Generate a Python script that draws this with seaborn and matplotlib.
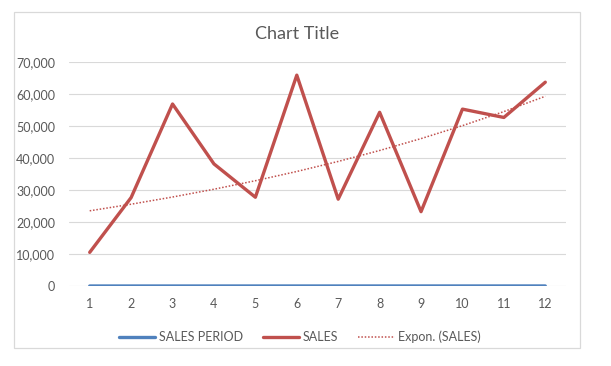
import numpy as np
import pandas as pd
import matplotlib
matplotlib.use("Agg")
import matplotlib.pyplot as plt
import matplotlib.ticker as mticker
from matplotlib.patches import Rectangle
import seaborn as sns

# ---- data ----
periods = [1, 2, 3, 4, 5, 6, 7, 8, 9, 10, 11, 12]
sales_period = [1, 2, 3, 4, 5, 6, 7, 8, 9, 10, 11, 12]
sales = [10500, 27600, 56800, 38100, 27700, 65800, 27100, 54200, 23200, 55200, 52600, 63600]
y_ticks = [0, 10000, 20000, 30000, 40000, 50000, 60000, 70000]
title = "Chart Title"

# exponential trendline fitted on SALES (as Excel's Expon. trendline)
b, a = np.polyfit(periods, np.log(sales), 1)
trend = list(np.exp(a) * np.exp(b * np.array(periods)))

df = pd.DataFrame({"period": periods, "SALES PERIOD": sales_period,
                   "SALES": sales, "Expon. (SALES)": trend})

sns.set_style("white")
plt.rcParams["font.family"] = ["Lato", "DejaVu Sans"]

W, H = 611, 366
fig = plt.figure(figsize=(W / 100, H / 100), dpi=100)
ax = fig.add_axes([69 / W, 80 / H, (566 - 69) / W, (286 - 61.7) / H])

blue = "#4F81BD"
red = "#C0504D"
grey = "#595959"
grid = "#D9D9D9"

sns.lineplot(data=df, x="period", y="SALES PERIOD", ax=ax, color=blue,
             linewidth=2.4, label="SALES PERIOD", zorder=3)
sns.lineplot(data=df, x="period", y="SALES", ax=ax, color=red,
             linewidth=2.4, label="SALES", zorder=4)
sns.lineplot(data=df, x="period", y="Expon. (SALES)", ax=ax, color=red,
             linewidth=1.1, linestyle=(0, (1, 1.2)), label="Expon. (SALES)",
             zorder=5)

ax.set_xlim(0.5, 12.5)
ax.set_ylim(0, 70000)
ax.set_xticks(periods)
ax.set_xticklabels([str(p) for p in periods])
ax.set_yticks(y_ticks)
ax.yaxis.set_major_formatter(mticker.FuncFormatter(lambda v, p: f"{int(v):,}"))
ax.grid(axis="y", color=grid, linewidth=0.8)
ax.set_axisbelow(True)
for s in ax.spines.values():
    s.set_visible(False)
ax.tick_params(axis="both", length=0, labelsize=9, colors=grey)
ax.tick_params(axis="y", pad=10)
ax.tick_params(axis="x", pad=9)
ax.set_xlabel("")
ax.set_ylabel("")

handles, labels = ax.get_legend_handles_labels()
ax.get_legend().remove()
leg = fig.legend(handles, labels, loc="center", bbox_to_anchor=(300 / W, 1 - 337 / H),
                 ncol=3, frameon=False, fontsize=9, handlelength=2.9,
                 handletextpad=0.3, columnspacing=1.6)
for t in leg.get_texts():
    t.set_color(grey)

fig.text(297 / W, 1 - 34 / H, title, ha="center", va="center", fontsize=13,
         color=grey)

fig.patches.append(Rectangle((14 / W, 1 - 348 / H), (580 - 14) / W, (348 - 12) / H,
                             transform=fig.transFigure, fill=False,
                             edgecolor=grid, linewidth=0.9))

fig.savefig("out.png", dpi=100, facecolor="white")
